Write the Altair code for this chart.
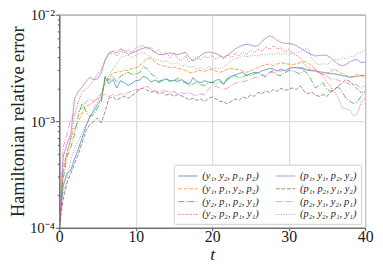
import altair as alt
import pandas as pd

T = [0, 0.5, 1, 1.5, 2, 2.5, 3, 3.5, 4, 4.5,
     5, 5.5, 6, 6.5, 7, 7.5, 8, 8.5, 9, 9.5,
     10, 10.5, 11, 11.5, 12, 12.5, 13, 13.5, 14, 14.5,
     15, 15.5, 16, 16.5, 17, 17.5, 18, 18.5, 19, 19.5,
     20, 20.5, 21, 21.5, 22, 22.5, 23, 23.5, 24, 24.5,
     25, 25.5, 26, 26.5, 27, 27.5, 28, 28.5, 29, 29.5,
     30, 30.5, 31, 31.5, 32, 32.5, 33, 33.5, 34, 34.5,
     35, 35.5, 36, 36.5, 37, 37.5, 38, 38.5, 39, 39.5,
     40]

NAMES = ["(y₁, y₂, p₁, p₂)", "(y₁, p₁, y₂, p₂)", "(y₂, p₁, p₂, y₁)", "(y₂, p₂, p₁, y₁)",
         "(p₁, y₁, p₂, y₂)", "(p₁, p₂, y₁, y₂)", "(p₂, y₁, y₂, p₁)", "(p₂, y₂, p₁, y₁)"]

S_Y1Y2P1P2 = [1.0e-4, 2.45e-4, 3.24e-4, 3.48e-4, 4.45e-4, 5.50e-4, 7.03e-4, 9.00e-4, 1.11e-3, 1.24e-3,
              1.44e-3, 1.62e-3, 2.59e-3, 2.25e-3, 2.46e-3, 2.05e-3, 2.40e-3, 2.30e-3, 2.17e-3, 2.27e-3,
              2.40e-3, 2.43e-3, 2.64e-3, 2.54e-3, 2.33e-3, 2.43e-3, 2.30e-3, 2.41e-3, 2.50e-3, 2.40e-3,
              2.43e-3, 2.36e-3, 2.46e-3, 2.33e-3, 2.23e-3, 2.57e-3, 2.36e-3, 2.30e-3, 2.40e-3, 2.33e-3,
              2.30e-3, 2.43e-3, 2.46e-3, 2.23e-3, 2.54e-3, 2.64e-3, 2.72e-3, 2.80e-3, 2.88e-3, 2.68e-3,
              2.78e-3, 2.88e-3, 2.84e-3, 2.98e-3, 3.05e-3, 3.13e-3, 3.09e-3, 2.96e-3, 3.09e-3, 2.96e-3,
              3.09e-3, 3.20e-3, 3.18e-3, 3.13e-3, 3.09e-3, 3.00e-3, 2.98e-3, 2.96e-3, 2.92e-3, 2.88e-3,
              2.84e-3, 2.80e-3, 2.78e-3, 2.74e-3, 2.68e-3, 2.64e-3, 2.59e-3, 2.61e-3, 2.64e-3, 2.68e-3,
              2.70e-3]

S_Y1P1Y2P2 = [1.0e-4, 3.24e-4, 5.12e-4, 7.03e-4, 8.40e-4, 1.00e-3, 1.19e-3, 1.40e-3, 1.42e-3, 1.53e-3,
              1.64e-3, 1.82e-3, 2.25e-3, 2.54e-3, 2.84e-3, 2.88e-3, 2.92e-3, 3.02e-3, 2.98e-3, 3.13e-3,
              3.18e-3, 3.31e-3, 3.60e-3, 3.92e-3, 3.86e-3, 3.60e-3, 3.41e-3, 3.31e-3, 3.27e-3, 3.18e-3,
              3.22e-3, 3.13e-3, 3.09e-3, 3.00e-3, 2.88e-3, 2.84e-3, 2.98e-3, 3.00e-3, 2.92e-3, 3.05e-3,
              3.09e-3, 2.96e-3, 2.88e-3, 2.96e-3, 3.09e-3, 3.13e-3, 3.05e-3, 3.09e-3, 2.96e-3, 2.88e-3,
              2.98e-3, 3.09e-3, 3.20e-3, 3.31e-3, 3.41e-3, 3.43e-3, 3.31e-3, 3.45e-3, 3.55e-3, 3.48e-3,
              3.43e-3, 3.41e-3, 3.45e-3, 3.55e-3, 3.65e-3, 3.55e-3, 3.31e-3, 3.05e-3, 2.80e-3, 2.76e-3,
              2.80e-3, 2.96e-3, 3.09e-3, 2.92e-3, 2.78e-3, 2.68e-3, 2.59e-3, 2.64e-3, 2.78e-3, 2.68e-3,
              2.54e-3]

S_Y2P1P2Y1 = [1.0e-4, 2.82e-4, 4.61e-4, 5.69e-4, 7.55e-4, 1.15e-3, 1.47e-3, 1.24e-3, 1.11e-3, 1.15e-3,
              1.33e-3, 1.53e-3, 2.68e-3, 2.41e-3, 2.64e-3, 2.33e-3, 2.64e-3, 2.76e-3, 2.88e-3, 2.76e-3,
              2.78e-3, 2.84e-3, 3.27e-3, 3.09e-3, 2.78e-3, 2.64e-3, 2.36e-3, 2.46e-3, 2.50e-3, 2.33e-3,
              2.40e-3, 2.54e-3, 2.36e-3, 2.30e-3, 2.17e-3, 2.23e-3, 2.33e-3, 2.20e-3, 2.17e-3, 2.30e-3,
              2.33e-3, 2.25e-3, 2.36e-3, 2.20e-3, 2.46e-3, 2.57e-3, 2.68e-3, 2.54e-3, 2.61e-3, 2.72e-3,
              2.68e-3, 2.78e-3, 2.88e-3, 2.72e-3, 2.59e-3, 2.88e-3, 2.98e-3, 2.72e-3, 2.68e-3, 2.84e-3,
              2.98e-3, 2.98e-3, 2.88e-3, 2.78e-3, 2.98e-3, 2.78e-3, 2.41e-3, 2.05e-3, 2.17e-3, 2.30e-3,
              1.99e-3, 1.91e-3, 1.95e-3, 2.10e-3, 1.88e-3, 1.64e-3, 1.53e-3, 1.47e-3, 1.51e-3, 1.74e-3,
              1.86e-3]

S_Y2P2P1Y1 = [1.0e-4, 3.73e-4, 4.94e-4, 6.56e-4, 1.15e-3, 1.53e-3, 1.91e-3, 1.99e-3, 2.17e-3, 2.41e-3,
              2.78e-3, 3.09e-3, 3.68e-3, 4.23e-3, 4.39e-3, 4.09e-3, 4.54e-3, 4.39e-3, 4.71e-3, 4.39e-3,
              4.88e-3, 5.05e-3, 5.12e-3, 4.71e-3, 4.98e-3, 4.39e-3, 4.71e-3, 4.15e-3, 4.45e-3, 3.95e-3,
              4.39e-3, 3.86e-3, 3.68e-3, 4.09e-3, 3.60e-3, 3.81e-3, 4.04e-3, 3.76e-3, 4.09e-3, 3.92e-3,
              4.15e-3, 3.81e-3, 4.09e-3, 3.86e-3, 4.23e-3, 3.95e-3, 4.33e-3, 4.09e-3, 4.45e-3, 4.23e-3,
              4.65e-3, 4.39e-3, 4.78e-3, 4.54e-3, 4.98e-3, 4.71e-3, 5.12e-3, 4.78e-3, 4.88e-3, 4.45e-3,
              4.71e-3, 4.33e-3, 4.15e-3, 3.95e-3, 3.43e-3, 3.20e-3, 2.98e-3, 3.09e-3, 2.84e-3, 2.64e-3,
              2.33e-3, 2.10e-3, 1.88e-3, 1.64e-3, 1.34e-3, 1.31e-3, 1.27e-3, 1.11e-3, 1.19e-3, 1.53e-3,
              1.64e-3]

S_P1Y1P2Y2 = [1.0e-4, 4.61e-4, 6.11e-4, 7.55e-4, 1.64e-3, 1.91e-3, 2.10e-3, 2.36e-3, 2.59e-3, 2.46e-3,
              2.50e-3, 2.84e-3, 3.81e-3, 4.39e-3, 4.54e-3, 4.39e-3, 4.78e-3, 4.61e-3, 4.23e-3, 4.39e-3,
              4.51e-3, 4.71e-3, 4.85e-3, 4.98e-3, 4.71e-3, 4.45e-3, 4.23e-3, 4.23e-3, 4.29e-3, 4.39e-3,
              4.29e-3, 4.20e-3, 4.33e-3, 4.45e-3, 3.95e-3, 3.68e-3, 3.86e-3, 4.15e-3, 4.39e-3, 4.45e-3,
              4.39e-3, 4.33e-3, 4.15e-3, 3.95e-3, 4.15e-3, 4.45e-3, 4.78e-3, 4.98e-3, 5.19e-3, 5.27e-3,
              5.19e-3, 5.05e-3, 5.12e-3, 5.61e-3, 6.02e-3, 6.32e-3, 6.15e-3, 5.73e-3, 5.50e-3, 5.38e-3,
              5.34e-3, 5.31e-3, 5.12e-3, 4.88e-3, 4.61e-3, 4.39e-3, 4.23e-3, 4.09e-3, 4.15e-3, 4.18e-3,
              4.15e-3, 3.95e-3, 3.65e-3, 3.43e-3, 3.31e-3, 3.41e-3, 3.60e-3, 3.76e-3, 3.76e-3, 3.55e-3,
              3.60e-3]

S_P1P2Y1Y2 = [1.0e-4, 1.85e-4, 2.63e-4, 3.24e-4, 4.01e-4, 4.94e-4, 6.33e-4, 8.10e-4, 9.31e-4, 1.00e-3,
              1.07e-3, 9.65e-4, 1.24e-3, 1.64e-3, 1.70e-3, 1.58e-3, 1.66e-3, 1.71e-3, 1.64e-3, 1.73e-3,
              1.86e-3, 1.99e-3, 2.05e-3, 1.95e-3, 1.88e-3, 1.91e-3, 1.81e-3, 1.86e-3, 1.76e-3, 1.81e-3,
              1.71e-3, 1.78e-3, 1.73e-3, 1.66e-3, 1.59e-3, 1.64e-3, 1.57e-3, 1.62e-3, 1.53e-3, 1.64e-3,
              1.69e-3, 1.62e-3, 1.54e-3, 1.51e-3, 1.46e-3, 1.54e-3, 1.62e-3, 1.57e-3, 1.69e-3, 1.64e-3,
              1.76e-3, 1.71e-3, 1.86e-3, 1.81e-3, 1.93e-3, 1.86e-3, 1.99e-3, 1.91e-3, 2.05e-3, 1.95e-3,
              1.99e-3, 2.05e-3, 1.99e-3, 2.15e-3, 1.91e-3, 1.81e-3, 1.88e-3, 1.76e-3, 1.71e-3, 1.78e-3,
              1.71e-3, 1.88e-3, 1.99e-3, 2.15e-3, 2.30e-3, 2.46e-3, 2.36e-3, 2.17e-3, 1.99e-3, 1.86e-3,
              1.91e-3]

S_P2Y1Y2P1 = [1.0e-4, 5.69e-4, 7.55e-4, 1.04e-3, 1.19e-3, 1.24e-3, 1.33e-3, 1.53e-3, 1.62e-3, 1.53e-3,
              1.64e-3, 1.70e-3, 1.82e-3, 1.70e-3, 1.78e-3, 1.73e-3, 1.81e-3, 1.76e-3, 1.86e-3, 1.91e-3,
              1.99e-3, 1.99e-3, 2.08e-3, 2.12e-3, 1.99e-3, 1.94e-3, 1.88e-3, 1.96e-3, 1.91e-3, 1.86e-3,
              1.91e-3, 1.78e-3, 1.86e-3, 1.81e-3, 1.86e-3, 1.78e-3, 1.73e-3, 1.81e-3, 1.76e-3, 1.99e-3,
              2.17e-3, 2.12e-3, 2.05e-3, 1.99e-3, 2.05e-3, 2.17e-3, 2.27e-3, 2.33e-3, 2.36e-3, 2.40e-3,
              2.46e-3, 2.58e-3, 2.55e-3, 2.72e-3, 2.70e-3, 2.88e-3, 2.84e-3, 3.00e-3, 2.94e-3, 3.09e-3,
              3.13e-3, 3.18e-3, 3.15e-3, 3.20e-3, 3.18e-3, 3.09e-3, 3.00e-3, 2.96e-3, 2.88e-3, 2.78e-3,
              2.64e-3, 2.50e-3, 2.46e-3, 2.43e-3, 2.36e-3, 2.30e-3, 2.23e-3, 2.27e-3, 2.17e-3, 2.05e-3,
              2.15e-3]

S_P2Y2P1Y1 = [None, 2.12e-4, 2.82e-4, 4.30e-4, 5.69e-4, 6.56e-4, 7.82e-4, 9.31e-4, 1.07e-3, 1.33e-3,
              1.53e-3, 1.82e-3, 2.33e-3, 2.64e-3, 3.09e-3, 3.43e-3, 3.95e-3, 4.09e-3, 4.15e-3, 3.95e-3,
              4.15e-3, 4.33e-3, 4.39e-3, 4.15e-3, 4.04e-3, 3.81e-3, 3.76e-3, 3.60e-3, 3.68e-3, 3.50e-3,
              3.43e-3, 3.55e-3, 3.31e-3, 3.36e-3, 3.20e-3, 3.27e-3, 3.09e-3, 3.18e-3, 3.05e-3, 3.27e-3,
              3.13e-3, 3.18e-3, 3.09e-3, 3.27e-3, 3.43e-3, 3.68e-3, 3.86e-3, 3.95e-3, 4.09e-3, 4.04e-3,
              4.09e-3, 4.15e-3, 4.09e-3, 4.23e-3, 4.18e-3, 4.33e-3, 4.23e-3, 4.39e-3, 4.23e-3, 4.33e-3,
              4.20e-3, 4.39e-3, 4.39e-3, 4.51e-3, 4.71e-3, 4.88e-3, 3.95e-3, 3.50e-3, 3.41e-3, 3.46e-3,
              3.41e-3, 3.60e-3, 3.81e-3, 3.76e-3, 3.95e-3, 3.86e-3, 4.09e-3, 4.04e-3, 4.33e-3, 4.39e-3,
              4.71e-3]

SERIES = [S_Y1Y2P1P2, S_Y1P1Y2P2, S_Y2P1P2Y1, S_Y2P2P1Y1,
          S_P1Y1P2Y2, S_P1P2Y1Y2, S_P2Y1Y2P1, S_P2Y2P1Y1]
COLORS = ["#1f77b4", "#ff7f0e", "#2ca02c", "#d62728",
          "#9467bd", "#8c564b", "#e377c2", "#7f7f7f"]
DASHES = [[1, 0], [4, 1.6], [6, 1.6, 1, 1.6], [1, 1.6],
          [1, 0], [4, 1.6], [6, 1.6, 1, 1.6], [1, 1.6]]
WIDTHS = [0.9, 0.9, 0.9, 0.9, 1.5, 0.9, 1.7, 0.9]

X_TICKS = [0, 10, 20, 30, 40]
Y_TICKS = [1e-4, 2e-4, 3e-4, 4e-4, 5e-4, 6e-4, 7e-4, 8e-4, 9e-4,
           1e-3, 2e-3, 3e-3, 4e-3, 5e-3, 6e-3, 7e-3, 8e-3, 9e-3, 1e-2]

rows = []
for name, vals in zip(NAMES, SERIES):
    for t, v in zip(T, vals):
        if v is not None:
            rows.append({"t": t, "err": v, "series": name})
df = pd.DataFrame(rows)

MAJ = ("abs(datum.value-0.01)<1e-9 || abs(datum.value-0.001)<1e-10 || "
       "abs(datum.value-0.0001)<1e-11")
YLAB = ("abs(datum.value-0.01)<1e-9 ? '10⁻²' : abs(datum.value-0.001)<1e-10 ? '10⁻³' : "
        "abs(datum.value-0.0001)<1e-11 ? '10⁻⁴' : ''")

SERIF = "Liberation Serif"

legend = alt.Legend(
    title=None, orient="bottom-right", offset=4, columns=2,
    symbolType="M-1,0H1.8", symbolSize=196, symbolStrokeWidth=1.1,
    labelFont=SERIF, labelFontSize=10.5, labelFontStyle="italic", labelColor="#222",
    labelOffset=10, rowPadding=0, columnPadding=14, padding=4,
    fillColor="white", strokeColor="#cccccc", cornerRadius=2,
)

chart = alt.Chart(df).mark_line(clip=True, opacity=0.8).encode(
    x=alt.X("t:Q", scale=alt.Scale(domain=[0, 40], nice=False),
            axis=alt.Axis(values=X_TICKS, title="t", format="d", labelFlush=False,
                          labelFontSize=16, tickSize=3, labelPadding=-2,
                          titleFontStyle="italic", titleFontSize=18, titlePadding=1)),
    y=alt.Y("err:Q", scale=alt.Scale(type="log", domain=[1e-4, 1e-2], nice=False),
            axis=alt.Axis(values=Y_TICKS, labelExpr=YLAB, labelOverlap=False,
                          labelFontSize=15, labelPadding=1,
                          title="Hamiltonian relative error", titleFontSize=18.5,
                          titlePadding=2,
                          tickSize={"condition": {"test": MAJ, "value": 4}, "value": 2},
                          gridOpacity={"condition": {"test": MAJ, "value": 1}, "value": 0})),
    color=alt.Color("series:N", scale=alt.Scale(domain=NAMES, range=COLORS), legend=legend),
    strokeDash=alt.StrokeDash("series:N", scale=alt.Scale(domain=NAMES, range=DASHES), legend=legend),
    strokeWidth=alt.StrokeWidth("series:N", scale=alt.Scale(domain=NAMES, range=WIDTHS), legend=None),
).properties(
    width=310, height=216,
    autosize=alt.AutoSizeParams(type="none"),
    padding={"left": 52, "top": 5, "right": 10, "bottom": 40},
).configure_view(
    stroke="#555555", strokeWidth=1
).configure_axis(
    labelFont=SERIF, titleFont=SERIF, labelColor="#222",
    titleColor="#222", titleFontWeight="normal", domainColor="#555555",
    tickColor="#555555", gridColor="#d5d5d5", gridWidth=1,
)

chart.save("out.html", embed_options={"renderer": "svg", "actions": False})
